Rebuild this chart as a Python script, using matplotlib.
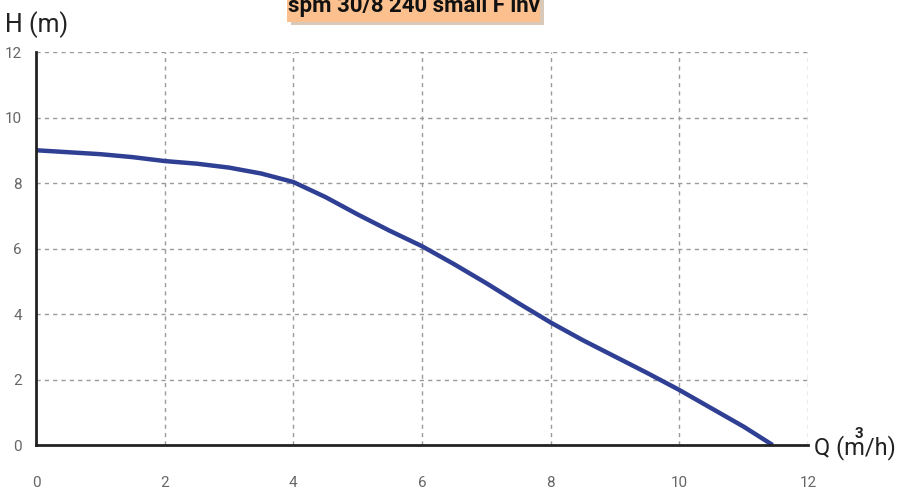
import matplotlib
matplotlib.use("Agg")
import matplotlib.pyplot as plt
from matplotlib.patches import Rectangle

# Data
Q = [0, 0.5, 1, 1.5, 2, 2.5, 3, 3.5, 4, 4.5, 5, 5.5, 6, 6.5, 7, 7.5, 8,
     8.5, 9, 9.5, 10, 10.5, 11, 11.45]
H = [9.0, 8.94, 8.88, 8.79, 8.67, 8.59, 8.47, 8.29, 8.03, 7.57, 7.04, 6.54,
     6.07, 5.52, 4.94, 4.33, 3.74, 3.2, 2.7, 2.2, 1.68, 1.12, 0.56, 0.0]
xticks = [0, 2, 4, 6, 8, 10, 12]
yticks = [0, 2, 4, 6, 8, 10, 12]
title = "spm 30/8 240 small F inv"

NARROW = ["Roboto", "DejaVu Sans"]

fig = plt.figure(figsize=(8.98, 4.98), dpi=100)
fig.patch.set_facecolor("white")
W, Hh = 898, 498
ax = fig.add_axes([36 / W, (498 - 445) / Hh, (808 - 36) / W, (445 - 52) / Hh])

ax.plot(Q, H, color="#2f3f94", lw=3.2, solid_joinstyle="round",
        solid_capstyle="butt", zorder=3)

ax.set_xlim(0, 12)
ax.set_ylim(0, 12)
ax.set_xticks(xticks)
ax.set_yticks(yticks)
ax.tick_params(length=0, colors="#666666", labelsize=11)
ax.tick_params(axis="x", pad=22)
ax.tick_params(axis="y", pad=10)
for lab in ax.get_xticklabels() + ax.get_yticklabels():
    lab.set_family(NARROW)
ax.grid(True, color="#9a9a9a", linestyle=(0, (3, 3)), lw=1.0)
ax.set_axisbelow(True)
for s in ["top", "right"]:
    ax.spines[s].set_visible(False)
for s in ["left", "bottom"]:
    ax.spines[s].set_color("#222222")
    ax.spines[s].set_linewidth(2)
    ax.spines[s].set_zorder(4)

# axis labels
fig.text(5 / W, (498 - 32) / Hh, "H (m)", fontsize=18, color="#222222",
         ha="left", va="baseline", family=NARROW)
# Q (m3/h) with the superscript 3 sitting over the m
fig.text(814 / W, (498 - 454) / Hh, "Q (m/h)", fontsize=17, color="#222222",
         ha="left", va="baseline", family=NARROW)
fig.text(859 / W, (498 - 438) / Hh, "3", fontsize=11, fontweight="bold",
         color="#222222", ha="center", va="baseline", family=NARROW)

# title box (cut off at top)
shadow = Rectangle((291 / W, (498 - 25) / Hh), (540 - 287) / W, 40 / Hh,
                   transform=fig.transFigure, facecolor="#d9c9b8", edgecolor="none",
                   zorder=1)
box = Rectangle((287 / W, (498 - 22) / Hh), (540 - 287) / W, 40 / Hh,
                transform=fig.transFigure, facecolor="#fbc08d", edgecolor="none",
                zorder=2)
fig.add_artist(shadow)
fig.add_artist(box)
fig.text((287 + 540) / 2 / W, (498 - 12) / Hh, title, fontsize=16,
         fontweight="bold", color="#111111", ha="center", va="baseline", zorder=3,
         family=NARROW)

fig.savefig("out.png", dpi=100, facecolor="white")
